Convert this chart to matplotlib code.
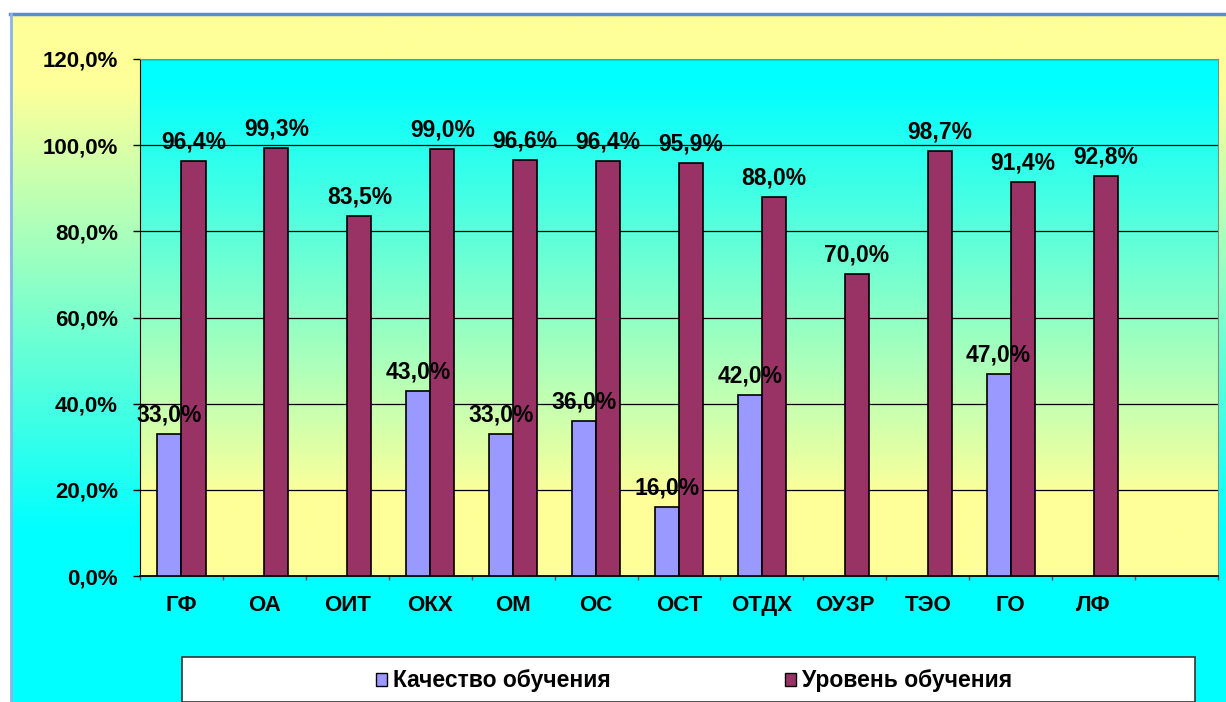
import matplotlib.pyplot as plt
import matplotlib.patches as mpatches
import numpy as np

plt.rcParams['font.family'] = ['Liberation Sans', 'DejaVu Sans']
plt.rcParams['font.weight'] = 'bold'

# Data
categories = ['ГФ', 'ОА', 'ОИТ', 'ОКХ', 'ОМ', 'ОС', 'ОСТ', 'ОТДХ', 'ОУЗР', 'ТЭО', 'ГО', 'ЛФ']
quality = [33.0, np.nan, np.nan, 43.0, 33.0, 36.0, 16.0, 42.0, np.nan, np.nan, 47.0, np.nan]
level = [96.4, 99.3, 83.5, 99.0, 96.6, 96.4, 95.9, 88.0, 70.0, 98.7, 91.4, 92.8]
series_names = ['Качество обучения', 'Уровень обучения']
yticks = [0, 20, 40, 60, 80, 100, 120]

W, H = 1226, 702
fig = plt.figure(figsize=(W / 100, H / 100), dpi=100)


def vgrad(c1, c2, start, stop, n=512):
    """ Vertical gradient c1 -> c2 between fractions start and stop
    """
    t = np.clip((np.linspace(0, 1, n) - start) / (stop - start), 0, 1)[:, None, None]
    g = np.array(c1)[None, None, :] * (1 - t) + np.array(c2)[None, None, :] * t
    return np.repeat(g, 2, axis=1)


yellow = [1.0, 1.0, 0.6]
cyan = [0.0, 1.0, 1.0]

# Outer background: yellow at top fading to cyan at bottom
bg = fig.add_axes([0, 0, 1, 1], zorder=-10)
bg.set_xlim(0, W)
bg.set_ylim(H, 0)
bg.axis('off')
bg.imshow(vgrad(yellow, cyan, 0.1, 0.75), extent=[11, W, H, 15], aspect='auto',
          interpolation='bilinear')
bg.add_patch(mpatches.Rectangle((0, 0), W, 14, color='white'))
bg.add_patch(mpatches.Rectangle((0, 0), 10, H, color='white'))
bg.plot([10, W], [14, 14], color='#5b8bd0', lw=2.5)
bg.plot([11, 11], [14, H], color='#8ab4e8', lw=2)

# Main plot area
left, right, top, bottom = 140, 1218, 59, 576
ax = fig.add_axes([left / W, (H - bottom) / H, (right - left) / W, (bottom - top) / H])
ax.patch.set_visible(False)
ax.imshow(vgrad(cyan, yellow, 0.05, 0.85), extent=[0, 1, 0, 1], transform=ax.transAxes,
          aspect='auto', interpolation='bilinear', zorder=0)

x = np.arange(len(categories))
w = 0.29
ax.bar(x - w / 2, quality, w, color='#9999ff', edgecolor='black', linewidth=1.2, zorder=3)
ax.bar(x + w / 2, level, w, color='#993366', edgecolor='black', linewidth=1.2, zorder=3)


def fmt(v):
    return ('%.1f%%' % v).replace('.', ',')


for xi, v in zip(x, quality):
    if not np.isnan(v):
        ax.annotate(fmt(v), (xi - w / 2, v), xytext=(0, 9), textcoords='offset points',
                    ha='center', va='baseline', fontsize=16.5, fontweight='bold', zorder=5)
for xi, v in zip(x, level):
    ax.annotate(fmt(v), (xi + w / 2, v), xytext=(0, 9), textcoords='offset points',
                ha='center', va='baseline', fontsize=16.5, fontweight='bold', zorder=5)

ax.set_xlim(-0.5, len(categories) + 0.5)
ax.set_ylim(0, 120)
ax.set_yticks(yticks)
ax.set_yticklabels([fmt(v) for v in yticks], fontsize=16, fontweight='bold')
ax.yaxis.grid(True, color='black', linewidth=0.9, zorder=1)
ax.set_axisbelow(True)
ax.tick_params(axis='y', length=5, width=1, pad=11)

ax.set_xticks(x)
ax.set_xticklabels(categories, fontsize=16, fontweight='bold')
ax.set_xticks(np.arange(-0.5, len(categories) + 1, 1), minor=True)
ax.tick_params(axis='x', which='major', length=0, pad=14)
ax.tick_params(axis='x', which='minor', length=3, width=1, color='#555555')

ax.spines['left'].set_color('black')
ax.spines['bottom'].set_color('black')
ax.spines['bottom'].set_linewidth(1.3)
ax.spines['top'].set_color('#8a8a7a')
ax.spines['right'].set_color('#8a8a7a')

# Legend box
bg.add_patch(mpatches.Rectangle((182, 657), 1195 - 182, 45, facecolor='white',
                                edgecolor='#333333', linewidth=1.2, zorder=2))
handles = [mpatches.Patch(facecolor='#9999ff', edgecolor='black', linewidth=1),
           mpatches.Patch(facecolor='#993366', edgecolor='black', linewidth=1)]
fig.legend(handles, series_names, loc='center', bbox_to_anchor=(694 / W, (H - 681) / H),
           ncol=2, frameon=False, handlelength=0.5, handleheight=0.5,
           handletextpad=0.25, columnspacing=7.6, prop={'weight': 'bold', 'size': 16.5})

fig.savefig('out.png', dpi=100)
